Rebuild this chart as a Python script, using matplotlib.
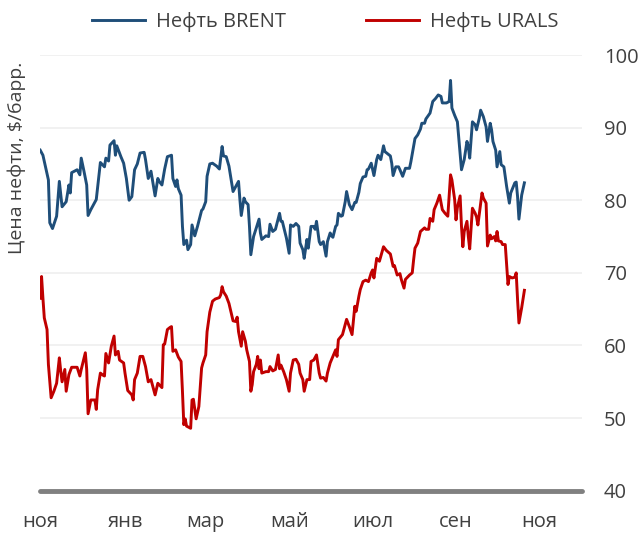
import pandas as pd
import matplotlib
matplotlib.use("Agg")
import matplotlib.pyplot as plt

plt.rcParams['font.family'] = ['Open Sans', 'DejaVu Sans']

# Нефть BRENT, $/барр.
brent_dates = [
    "2022-12-01", "2022-12-03", "2022-12-07", "2022-12-08", "2022-12-10", "2022-12-13",
    "2022-12-15", "2022-12-17", "2022-12-20", "2022-12-22", "2022-12-23", "2022-12-24",
    "2022-12-28", "2022-12-30", "2022-12-31", "2023-01-02", "2023-01-04", "2023-01-05",
    "2023-01-07", "2023-01-11", "2023-01-14", "2023-01-17", "2023-01-18", "2023-01-20",
    "2023-01-21", "2023-01-24", "2023-01-25", "2023-01-26", "2023-01-29", "2023-01-31",
    "2023-02-02", "2023-02-04", "2023-02-06", "2023-02-08", "2023-02-10", "2023-02-12",
    "2023-02-15", "2023-02-16", "2023-02-18", "2023-02-20", "2023-02-23", "2023-02-25",
    "2023-02-26", "2023-02-28", "2023-03-02", "2023-03-04", "2023-03-07", "2023-03-08",
    "2023-03-10", "2023-03-11", "2023-03-12", "2023-03-14", "2023-03-15", "2023-03-16",
    "2023-03-18", "2023-03-19", "2023-03-21", "2023-03-22", "2023-03-24", "2023-03-26",
    "2023-03-29", "2023-03-30", "2023-04-01", "2023-04-02", "2023-04-04", "2023-04-06",
    "2023-04-09", "2023-04-11", "2023-04-12", "2023-04-13", "2023-04-14", "2023-04-16",
    "2023-04-18", "2023-04-21", "2023-04-23", "2023-04-25", "2023-04-26", "2023-04-27",
    "2023-04-29", "2023-04-30", "2023-05-02", "2023-05-03", "2023-05-04", "2023-05-06",
    "2023-05-08", "2023-05-10", "2023-05-11", "2023-05-12", "2023-05-15", "2023-05-17",
    "2023-05-18", "2023-05-20", "2023-05-22", "2023-05-25", "2023-05-26", "2023-05-27",
    "2023-05-30", "2023-06-01", "2023-06-02", "2023-06-04", "2023-06-06", "2023-06-08",
    "2023-06-09", "2023-06-11", "2023-06-12", "2023-06-14", "2023-06-15", "2023-06-17",
    "2023-06-19", "2023-06-20", "2023-06-21", "2023-06-23", "2023-06-24", "2023-06-26",
    "2023-06-28", "2023-06-29", "2023-07-01", "2023-07-02", "2023-07-03", "2023-07-05",
    "2023-07-06", "2023-07-07", "2023-07-09", "2023-07-10", "2023-07-12", "2023-07-13",
    "2023-07-15", "2023-07-17", "2023-07-19", "2023-07-20", "2023-07-22", "2023-07-23",
    "2023-07-25", "2023-07-27", "2023-07-28", "2023-07-29", "2023-07-31", "2023-08-02",
    "2023-08-04", "2023-08-05", "2023-08-07", "2023-08-09", "2023-08-10", "2023-08-14",
    "2023-08-15", "2023-08-16", "2023-08-18", "2023-08-20", "2023-08-21", "2023-08-23",
    "2023-08-25", "2023-08-28", "2023-08-29", "2023-09-01", "2023-09-03", "2023-09-05",
    "2023-09-06", "2023-09-08", "2023-09-09", "2023-09-12", "2023-09-14", "2023-09-16",
    "2023-09-18", "2023-09-20", "2023-09-21", "2023-09-24", "2023-09-26", "2023-09-27",
    "2023-09-28", "2023-09-30", "2023-10-02", "2023-10-04", "2023-10-05", "2023-10-07",
    "2023-10-09", "2023-10-10", "2023-10-11", "2023-10-13", "2023-10-15", "2023-10-16",
    "2023-10-18", "2023-10-19", "2023-10-21", "2023-10-23", "2023-10-24", "2023-10-26",
    "2023-10-27", "2023-10-28", "2023-10-30", "2023-10-31", "2023-11-02", "2023-11-03",
    "2023-11-05", "2023-11-07", "2023-11-09", "2023-11-10", "2023-11-13", "2023-11-14",
    "2023-11-15", "2023-11-16", "2023-11-18", "2023-11-20",
]
brent = [
    86.9, 86.2, 82.8, 76.9, 76.1, 77.8, 82.6, 79.1, 79.8, 82.1, 81.0, 83.8,
    84.2, 83.5, 85.8, 84.0, 82.1, 77.9, 78.7, 80.1, 85.2, 84.6, 85.8, 85.4,
    87.6, 88.2, 86.2, 87.5, 86.0, 85.1, 83.0, 80.0, 80.5, 84.2, 85.0, 86.5,
    86.6, 85.6, 83.0, 84.0, 80.6, 83.0, 82.6, 82.1, 84.3, 86.0, 86.2, 83.0,
    81.9, 82.8, 81.6, 80.7, 76.4, 73.9, 74.5, 73.2, 73.9, 76.6, 75.1, 76.4,
    78.6, 78.8, 79.8, 83.3, 85.0, 85.1, 84.7, 84.3, 85.8, 87.4, 86.1, 86.0,
    84.7, 81.2, 81.9, 82.6, 80.1, 77.9, 80.3, 79.8, 79.4, 76.4, 72.5, 75.0,
    76.2, 77.4, 75.5, 74.6, 75.1, 75.0, 76.7, 75.7, 76.0, 78.2, 77.1, 77.1,
    74.8, 72.7, 76.6, 76.4, 76.8, 76.4, 74.1, 73.2, 72.0, 74.6, 73.4, 76.4,
    76.4, 76.0, 77.1, 74.3, 73.9, 74.3, 72.3, 74.3, 75.5, 75.1, 74.9, 76.4,
    76.6, 78.2, 77.8, 77.9, 79.8, 81.2, 79.4, 78.7, 79.7, 79.7, 81.1, 82.3,
    83.2, 83.3, 84.2, 84.3, 85.1, 83.4, 85.6, 86.2, 85.6, 87.5, 86.7, 86.1,
    85.1, 83.4, 84.6, 84.6, 84.2, 83.3, 84.4, 84.4, 85.3, 88.5, 89.0, 89.8,
    90.6, 90.6, 91.2, 92.0, 93.6, 94.0, 94.5, 94.3, 93.4, 93.4, 93.6, 96.5,
    92.7, 91.7, 90.8, 86.5, 84.2, 85.6, 88.1, 87.4, 85.8, 90.8, 90.4, 89.7,
    91.3, 92.4, 91.5, 90.1, 88.1, 90.6, 89.7, 88.1, 86.9, 84.6, 86.7, 84.9,
    84.6, 81.9, 79.6, 81.0, 82.4, 82.5, 80.5, 77.4, 80.7, 82.4,
]

# Нефть URALS, $/барр.
urals_dates = [
    "2022-12-01", "2022-12-02", "2022-12-03", "2022-12-04", "2022-12-06", "2022-12-07",
    "2022-12-09", "2022-12-11", "2022-12-13", "2022-12-15", "2022-12-16", "2022-12-17",
    "2022-12-19", "2022-12-20", "2022-12-22", "2022-12-24", "2022-12-28", "2022-12-30",
    "2022-12-31", "2023-01-03", "2023-01-04", "2023-01-05", "2023-01-07", "2023-01-10",
    "2023-01-11", "2023-01-12", "2023-01-14", "2023-01-16", "2023-01-17", "2023-01-18",
    "2023-01-20", "2023-01-22", "2023-01-24", "2023-01-25", "2023-01-27", "2023-01-28",
    "2023-01-31", "2023-02-01", "2023-02-03", "2023-02-06", "2023-02-07", "2023-02-08",
    "2023-02-10", "2023-02-12", "2023-02-14", "2023-02-16", "2023-02-18", "2023-02-20",
    "2023-02-23", "2023-02-25", "2023-02-26", "2023-02-28", "2023-03-01", "2023-03-02",
    "2023-03-04", "2023-03-06", "2023-03-07", "2023-03-08", "2023-03-10", "2023-03-11",
    "2023-03-12", "2023-03-14", "2023-03-15", "2023-03-16", "2023-03-17", "2023-03-18",
    "2023-03-21", "2023-03-22", "2023-03-23", "2023-03-25", "2023-03-27", "2023-03-29",
    "2023-03-30", "2023-04-01", "2023-04-02", "2023-04-04", "2023-04-06", "2023-04-08",
    "2023-04-11", "2023-04-12", "2023-04-13", "2023-04-14", "2023-04-16", "2023-04-18",
    "2023-04-21", "2023-04-23", "2023-04-24", "2023-04-25", "2023-04-27", "2023-04-28",
    "2023-04-30", "2023-05-01", "2023-05-03", "2023-05-04", "2023-05-05", "2023-05-06",
    "2023-05-08", "2023-05-09", "2023-05-10", "2023-05-11", "2023-05-12", "2023-05-15",
    "2023-05-17", "2023-05-18", "2023-05-20", "2023-05-22", "2023-05-24", "2023-05-25",
    "2023-05-26", "2023-05-28", "2023-05-30", "2023-06-01", "2023-06-02", "2023-06-04",
    "2023-06-06", "2023-06-08", "2023-06-09", "2023-06-11", "2023-06-12", "2023-06-14",
    "2023-06-16", "2023-06-17", "2023-06-19", "2023-06-21", "2023-06-23", "2023-06-24",
    "2023-06-26", "2023-06-28", "2023-06-29", "2023-07-01", "2023-07-03", "2023-07-05",
    "2023-07-06", "2023-07-07", "2023-07-10", "2023-07-12", "2023-07-13", "2023-07-15",
    "2023-07-17", "2023-07-19", "2023-07-20", "2023-07-22", "2023-07-23", "2023-07-25",
    "2023-07-27", "2023-07-29", "2023-07-31", "2023-08-01", "2023-08-02", "2023-08-04",
    "2023-08-06", "2023-08-09", "2023-08-11", "2023-08-14", "2023-08-16", "2023-08-17",
    "2023-08-19", "2023-08-21", "2023-08-22", "2023-08-24", "2023-08-25", "2023-08-27",
    "2023-08-28", "2023-08-30", "2023-08-31", "2023-09-01", "2023-09-03", "2023-09-05",
    "2023-09-08", "2023-09-09", "2023-09-11", "2023-09-12", "2023-09-14", "2023-09-15",
    "2023-09-17", "2023-09-19", "2023-09-21", "2023-09-23", "2023-09-25", "2023-09-27",
    "2023-09-28", "2023-09-30", "2023-10-01", "2023-10-02", "2023-10-04", "2023-10-05",
    "2023-10-06", "2023-10-07", "2023-10-09", "2023-10-10", "2023-10-11", "2023-10-13",
    "2023-10-15", "2023-10-16", "2023-10-17", "2023-10-19", "2023-10-20", "2023-10-21",
    "2023-10-23", "2023-10-24", "2023-10-26", "2023-10-27", "2023-10-29", "2023-10-30",
    "2023-10-31", "2023-11-01", "2023-11-03", "2023-11-04", "2023-11-06", "2023-11-08",
    "2023-11-09", "2023-11-11", "2023-11-13", "2023-11-14", "2023-11-15", "2023-11-16",
    "2023-11-18", "2023-11-20",
]
urals = [
    66.5, 69.5, 66.5, 63.8, 62.2, 57.4, 52.8, 53.7, 54.8, 58.3, 56.5, 55.0,
    56.7, 53.7, 56.0, 57.0, 57.0, 55.8, 56.7, 59.0, 56.7, 50.6, 52.5, 52.5,
    51.2, 53.9, 56.2, 55.9, 55.8, 58.9, 57.6, 59.9, 61.3, 58.7, 59.2, 58.0,
    57.6, 56.2, 53.8, 53.2, 52.5, 55.3, 56.2, 58.5, 58.5, 57.1, 55.0, 55.3,
    53.2, 54.8, 54.6, 54.2, 60.1, 60.2, 62.2, 62.5, 62.6, 59.2, 59.4, 58.9,
    58.4, 57.8, 53.7, 49.1, 49.9, 48.9, 48.6, 52.5, 52.6, 49.9, 51.6, 56.9,
    57.6, 58.7, 61.9, 64.6, 66.1, 66.4, 66.6, 67.0, 68.1, 67.4, 66.8, 65.8,
    63.4, 63.3, 63.9, 61.9, 59.9, 61.9, 60.6, 59.4, 57.8, 53.7, 54.6, 56.4,
    57.4, 58.5, 56.8, 58.0, 56.2, 56.4, 56.4, 57.1, 56.5, 56.7, 58.7, 56.8,
    57.3, 56.4, 55.3, 53.7, 56.2, 58.0, 58.1, 57.4, 56.2, 55.3, 53.7, 55.3,
    55.3, 57.8, 58.0, 58.7, 56.2, 55.5, 55.6, 55.1, 56.2, 57.6, 58.5, 59.4,
    58.5, 60.8, 61.5, 62.9, 63.6, 62.6, 61.5, 65.4, 64.7, 66.8, 67.7, 68.8,
    69.0, 68.8, 70.0, 70.4, 69.3, 72.0, 71.6, 73.6, 73.1, 72.6, 70.9, 71.0,
    69.7, 69.9, 69.1, 67.9, 69.1, 69.5, 69.7, 70.0, 71.8, 73.4, 74.1, 75.7,
    76.2, 76.0, 76.0, 77.5, 77.1, 78.7, 79.6, 80.7, 78.7, 78.2, 77.8, 83.5,
    82.8, 80.1, 77.3, 79.0, 80.6, 76.4, 73.6, 75.7, 77.1, 75.0, 73.3, 78.9,
    78.2, 77.7, 76.6, 79.6, 81.0, 80.3, 79.6, 73.7, 75.2, 74.7, 75.0, 74.4,
    75.7, 74.4, 74.3, 73.9, 73.9, 68.4, 69.5, 69.3, 69.4, 70.0, 66.3, 63.1,
    65.2, 67.6,
]

tick_dates = ["2022-12-01", "2023-02-01", "2023-04-01", "2023-06-01",
              "2023-08-01", "2023-10-01", "2023-12-01"]
tick_labels = ["ноя", "янв", "мар", "май", "июл", "сен", "ноя"]
y_ticks = [40, 50, 60, 70, 80, 90, 100]

text_color = "#404040"

fig = plt.figure(figsize=(6.38, 5.34), dpi=100)
ax = fig.add_axes([0.063, 0.081, 0.849, 0.816])

ax.plot(pd.to_datetime(brent_dates), brent, color="#1f4e79", lw=2.1, label="Нефть BRENT")
ax.plot(pd.to_datetime(urals_dates), urals, color="#c00000", lw=2.1, label="Нефть URALS")

ax.set_xlim(pd.Timestamp("2022-12-01"), pd.Timestamp("2024-01-01"))
ax.set_ylim(40, 100)
ax.set_xticks(pd.to_datetime(tick_dates))
ax.set_xticklabels(tick_labels)
ax.set_yticks(y_ticks)

ax.grid(axis="y", color="#efefef", lw=1.2)
ax.set_axisbelow(True)
ax.axhline(40, color="#808080", lw=3.5, solid_capstyle="round", clip_on=False, zorder=3)

for s in ax.spines.values():
    s.set_visible(False)
ax.yaxis.tick_right()
ax.tick_params(axis="both", length=0, labelsize=14.5, colors=text_color)
ax.tick_params(axis="y", pad=16)
ax.tick_params(axis="x", pad=15)
for lbl in ax.get_yticklabels():
    lbl.set_horizontalalignment("left")

fig.text(0.027, 0.884, "Цена нефти, $/барр.", rotation=90, va="top", ha="center",
         fontsize=14, color=text_color)

fig.legend(loc="upper center", bbox_to_anchor=(0.51, 1.012), ncol=2, frameon=False,
           fontsize=14.5, labelcolor=text_color, handlelength=2.6, handletextpad=0.55,
           columnspacing=4.0)

fig.savefig("out.png", dpi=100)
